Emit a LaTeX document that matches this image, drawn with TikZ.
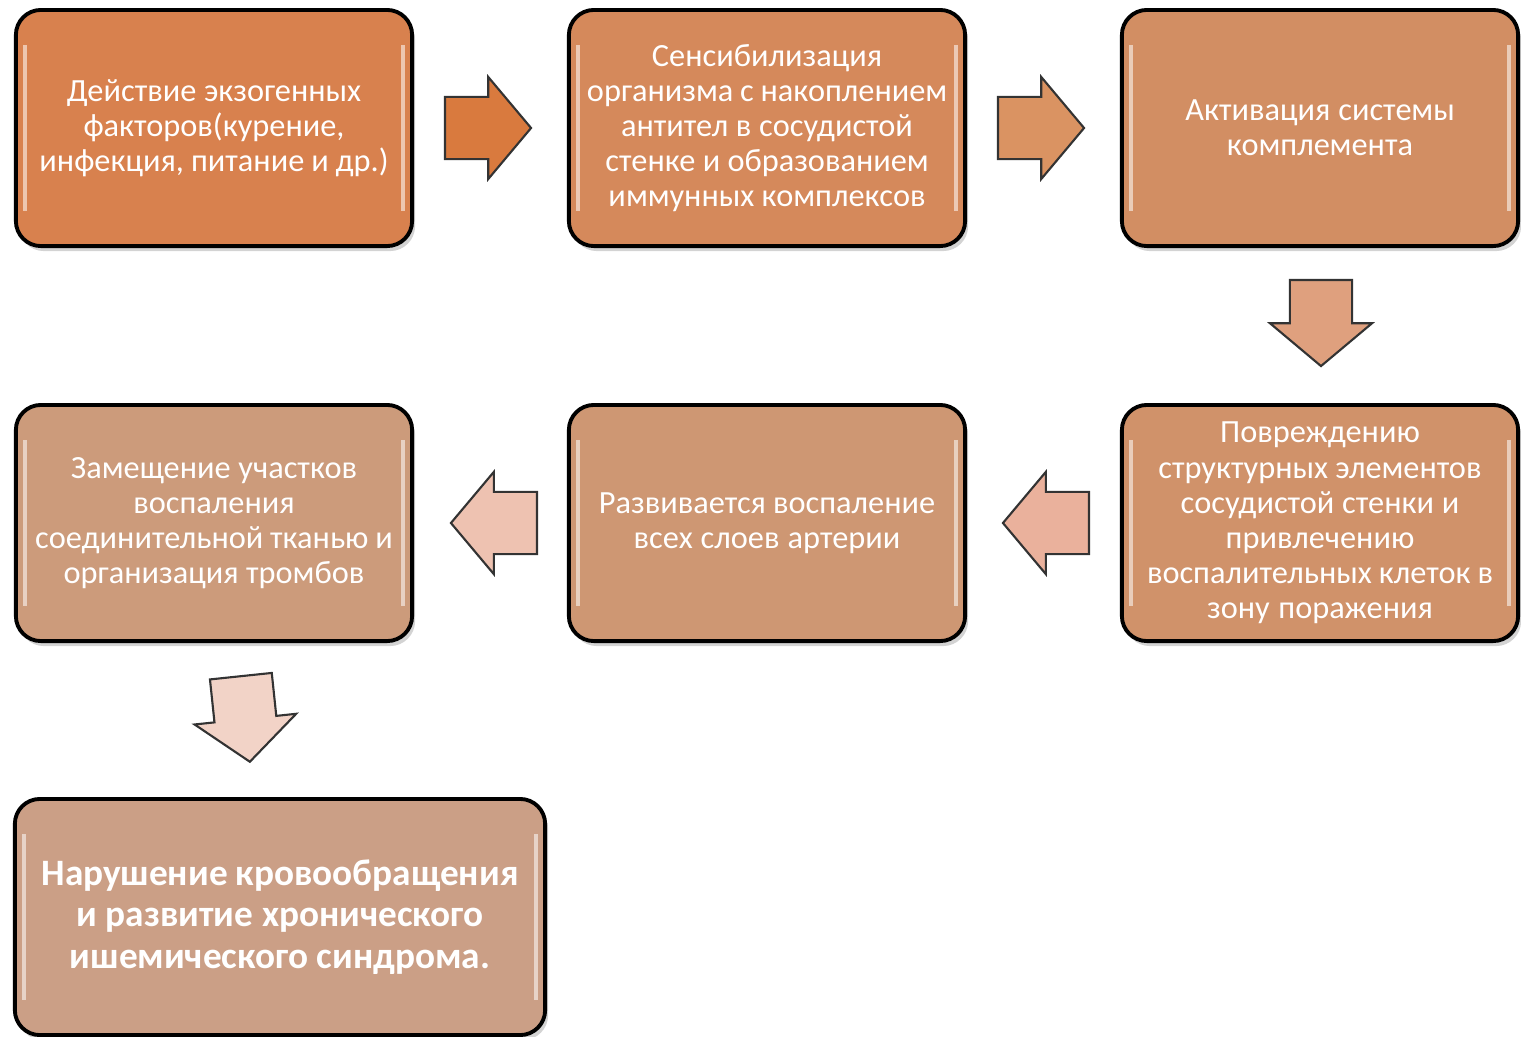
\documentclass[tikz,border=0pt]{standalone}
\usepackage{fontspec}
\setmainfont{Carlito}
\usetikzlibrary{shapes.arrows, shadows}

\definecolor{boxa}{HTML}{D8814E}
\definecolor{boxb}{HTML}{D5895B}
\definecolor{boxc}{HTML}{D28E63}
\definecolor{boxd}{HTML}{D0926A}
\definecolor{boxe}{HTML}{CE9773}
\definecolor{boxf}{HTML}{CC9B7B}
\definecolor{boxg}{HTML}{CB9F86}
\definecolor{ara}{HTML}{D97A3E}
\definecolor{arb}{HTML}{DA9362}
\definecolor{arc}{HTML}{DFA07E}
\definecolor{ard}{HTML}{EAB19C}
\definecolor{are}{HTML}{EEC2B1}
\definecolor{arf}{HTML}{F2D3C7}

\newcommand{\tightspace}[1]{\spaceskip=#1 plus 0.5pt\relax}

\tikzset{
    stage/.style={rectangle, rounded corners=0.25cm, draw=black, line width=1.1pt,
        minimum width=3.96cm, minimum height=2.36cm, text width=3.9cm, inner xsep=0pt,
        align=center, text=white,
        font=\fontsize{9.2}{10}\selectfont,
        execute at begin node=\tightspace{1.8pt},
        drop shadow={shadow xshift=0.03cm, shadow yshift=-0.05cm, opacity=0.35},
        path picture={
            \draw[white, opacity=0.55, line width=1pt]
                ([xshift=0.09cm, yshift=-0.35cm]path picture bounding box.north west)
                -- ([xshift=0.09cm, yshift=0.35cm]path picture bounding box.south west)
                ([xshift=-0.09cm, yshift=-0.35cm]path picture bounding box.north east)
                -- ([xshift=-0.09cm, yshift=0.35cm]path picture bounding box.south east);
        }},
    blockarrow/.style={single arrow, draw=black!80, line width=0.6pt,
        inner xsep=0pt, inner ysep=0.3cm,
        minimum height=0.86cm, minimum width=1cm,
        single arrow head extend=0.2cm, single arrow tip angle=100}
}

\begin{document}
\begin{tikzpicture}[x=0.01cm, y=-0.01cm]
    \useasboundingbox (0,0) rectangle (1521,1036);

    \node[stage, fill=boxa] (s1) at (214,128)
        {Действие экзогенных\\ факторов(курение,\\ инфекция, питание и др.)};
    \node[stage, fill=boxb] (s2) at (767,128)
        {Сенсибилизация\\ организма с накоплением\\ антител в сосудистой\\ стенке и образованием\\ иммунных комплексов};
    \node[stage, fill=boxc] (s3) at (1320,128)
        {Активация системы\\ комплемента};
    \node[stage, fill=boxd] (s4) at (1320,523)
        {Повреждению\\ структурных элементов\\ сосудистой стенки и\\ привлечению\\ воспалительных клеток в\\ зону поражения};
    \node[stage, fill=boxe] (s5) at (767,523)
        {Развивается воспаление\\ всех слоев артерии};
    \node[stage, fill=boxf] (s6) at (214,523)
        {Замещение участков\\ воспаления\\ соединительной тканью и\\ организация тромбов};
    \node[stage, fill=boxg, minimum width=5.3cm, minimum height=2.36cm, text width=5.2cm,
        font=\fontsize{10.6}{11.8}\selectfont\bfseries,
        execute at begin node=\tightspace{2.1pt}] (s7) at (280,917)
        {Нарушение кровообращения\\ и развитие хронического\\ ишемического синдрома.};

    % arrows between stages
    \node[blockarrow, fill=ara] (a1) at (475,128) {};
    \node[blockarrow, fill=arb] (a2) at (1028,128) {};
    \node[blockarrow, fill=arc, rotate=-90] (a3) at (1321,310) {};
    \node[blockarrow, fill=ard, rotate=180] (a4) at (1059,523) {};
    \node[blockarrow, fill=are, rotate=180] (a5) at (507,523) {};
    \node[blockarrow, fill=arf, rotate=-84] (a6) at (244,706) {};
\end{tikzpicture}
\end{document}
